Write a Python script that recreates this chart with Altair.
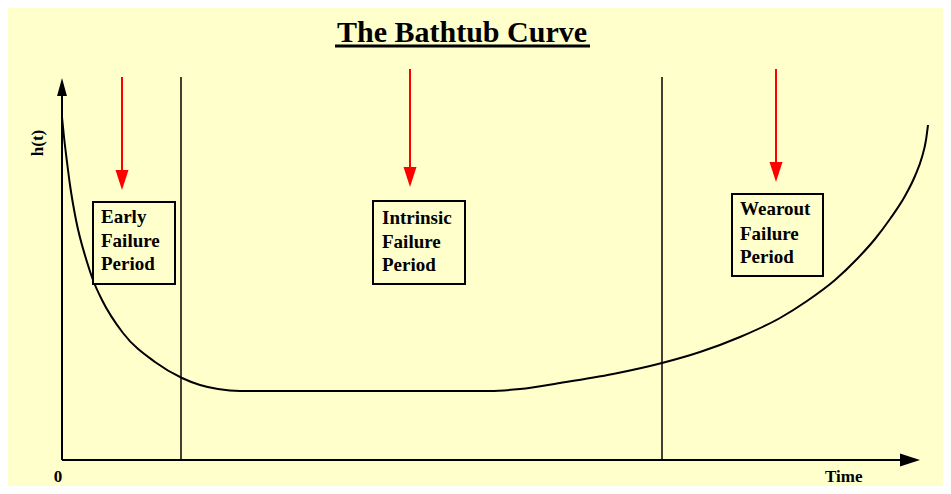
import altair as alt
import pandas as pd

# ---- data (chart units: time from origin, hazard h(t) above the time axis) ----
curve_t = [0, 2, 5, 8, 14, 25, 31, 40, 61, 93, 120, 138, 156, 178,
           428, 458, 498, 551, 600, 638, 678, 718, 745, 773, 795, 813, 828, 843, 853, 860, 864, 866]
curve_h = [343, 323, 298, 275, 240, 198, 180, 160, 127, 98, 82, 75, 71, 69,
           69, 71, 77, 86, 97, 108, 123, 142, 159, 180, 201, 221, 241, 264, 284, 303, 320, 335]

boundary_t = [119, 600]
boundary_top = 383

arrow_t = [60, 348, 714]
arrow_top = [383, 391, 391]
arrow_head = [280, 283, 288]

box_left = [31, 311, 670]
box_right = [113, 403, 761]
box_bottom = [176, 176, 184]
box_top = [258, 259, 266]

box_text = ["Early", "Failure", "Period",
            "Intrinsic", "Failure", "Period",
            "Wearout", "Failure", "Period"]
box_text_t = [39, 39, 39, 320, 320, 320, 678, 678, 678]
box_text_h = [237, 213, 190, 236, 212, 189, 245, 220, 197]

title_text = "The Bathtub Curve"
axis_end_t = 858
axis_end_h = 382

BG = "#FFFFCC"
FONT = "Liberation Serif"

xs = alt.Scale(domain=[-54, 881], nice=False, zero=False)
ys = alt.Scale(domain=[-26, 452], nice=False, zero=False)


def X(f="x"):
    return alt.X(f"{f}:Q", scale=xs, axis=None)


def Y(f="y"):
    return alt.Y(f"{f}:Q", scale=ys, axis=None)


curve_df = pd.DataFrame({"x": curve_t, "y": curve_h})
curve = alt.Chart(curve_df).mark_line(
    color="black", strokeWidth=2, interpolate="monotone"
).encode(x=X(), y=Y())

bound_df = pd.DataFrame({"x": boundary_t, "y": [0] * len(boundary_t),
                         "y2": [boundary_top] * len(boundary_t)})
bounds = alt.Chart(bound_df).mark_rule(color="black", strokeWidth=1.5).encode(
    x=X(), y=Y(), y2="y2:Q")

arrow_df = pd.DataFrame({"x": arrow_t, "y": arrow_head, "y2": arrow_top})
red_lines = alt.Chart(arrow_df).mark_rule(color="#FF0000", strokeWidth=2).encode(
    x=X(), y=Y(), y2="y2:Q")
red_heads = alt.Chart(arrow_df).mark_point(
    shape="M-0.65,-1L0.65,-1L0,1Z", filled=True, size=400, color="#FF0000", opacity=1
).encode(x=X(), y=Y())

# axes
yaxis_df = pd.DataFrame({"x": [0], "y": [0], "y2": [axis_end_h - 9]})
yaxis = alt.Chart(yaxis_df).mark_rule(color="black", strokeWidth=2).encode(
    x=X(), y=Y(), y2="y2:Q")
yhead = alt.Chart(pd.DataFrame({"x": [0], "y": [axis_end_h - 9]})).mark_point(
    shape="M-0.55,1L0.55,1L0,-1Z", filled=True, size=324, color="black", opacity=1
).encode(x=X(), y=Y())

xaxis_df = pd.DataFrame({"x": [0], "x2": [axis_end_t - 10], "y": [0]})
xaxis = alt.Chart(xaxis_df).mark_rule(color="black", strokeWidth=2).encode(
    x=X(), x2="x2:Q", y=Y())
xhead = alt.Chart(pd.DataFrame({"x": [axis_end_t - 10], "y": [0]})).mark_point(
    shape="M-1,-0.65L-1,0.65L1,0Z", filled=True, size=400, color="black", opacity=1
).encode(x=X(), y=Y())

# boxes
box_df = pd.DataFrame({"x": box_left, "x2": box_right, "y": box_bottom, "y2": box_top})
boxes = alt.Chart(box_df).mark_rect(fill=BG, stroke="black", strokeWidth=2).encode(
    x=X(), x2="x2:Q", y=Y(), y2="y2:Q")

text_df = pd.DataFrame({"x": box_text_t, "y": box_text_h, "label": box_text})
texts = alt.Chart(text_df).mark_text(
    font=FONT, fontWeight="bold", fontSize=19, align="left", baseline="alphabetic",
    color="black"
).encode(x=X(), y=Y(), text="label:N")

# title with underline
title_df = pd.DataFrame({"x": [400], "y": [418], "label": [title_text]})
title = alt.Chart(title_df).mark_text(
    font=FONT, fontWeight="bold", fontSize=30, align="center", baseline="alphabetic",
    color="black"
).encode(x=X(), y=Y(), text="label:N")
uline = alt.Chart(pd.DataFrame({"x": [273], "x2": [528], "y": [414]})).mark_rule(
    color="black", strokeWidth=3).encode(x=X(), x2="x2:Q", y=Y())

# axis labels
lab_df = pd.DataFrame({"x": [-4, 763], "y": [-22, -22], "label": ["0", "Time"]})
lab0 = alt.Chart(lab_df.iloc[[0]]).mark_text(
    font=FONT, fontWeight="bold", fontSize=17, align="center", baseline="alphabetic",
    color="black").encode(x=X(), y=Y(), text="label:N")
labT = alt.Chart(lab_df.iloc[[1]]).mark_text(
    font=FONT, fontWeight="bold", fontSize=17, align="left", baseline="alphabetic",
    color="black").encode(x=X(), y=Y(), text="label:N")
hlab = alt.Chart(pd.DataFrame({"x": [-24], "y": [317], "label": ["h(t)"]})).mark_text(
    font=FONT, fontWeight="bold", fontSize=17, align="center", baseline="middle",
    angle=270, color="black").encode(x=X(), y=Y(), text="label:N")

chart = alt.layer(
    bounds, curve, red_lines, red_heads, yaxis, yhead, xaxis, xhead,
    boxes, texts, title, uline, lab0, labT, hlab
).properties(
    width=935, height=478, background=BG, padding=0,
    autosize=alt.AutoSizeParams(type="fit", contains="padding")
).configure_view(stroke=None)

chart.save("out.html", embed_options={"renderer": "svg", "actions": False})
